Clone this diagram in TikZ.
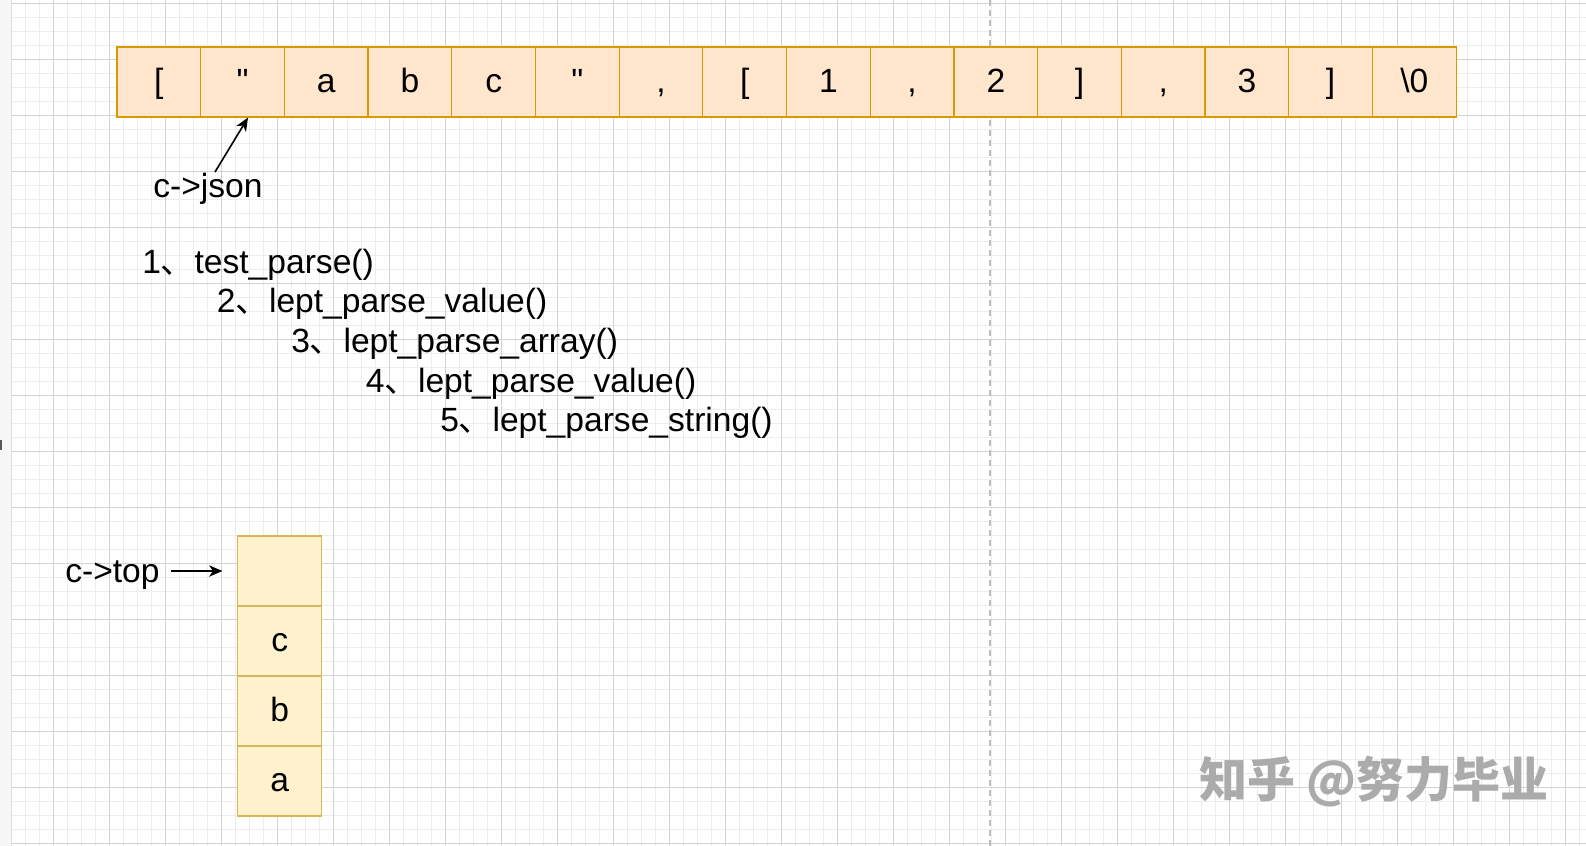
\documentclass[tikz,border=0pt]{standalone}
\usepackage{fontspec}
\setmainfont{Liberation Sans}
\newfontfamily\rawfont{Liberation Sans}[Ligatures=ResetAll]
\newfontfamily\cjk{Noto Sans CJK SC}
\usetikzlibrary{arrows.meta}
\definecolor{gridmajor}{HTML}{D2D2D2}
\definecolor{gridminor}{HTML}{EDEDED}
\definecolor{arrfill}{HTML}{FFE6CC}
\definecolor{arrdraw}{HTML}{D79B00}
\definecolor{stkfill}{HTML}{FFF2CC}
\definecolor{stkdraw}{HTML}{D6B656}
\definecolor{wmcol}{HTML}{ABABAB}
\definecolor{dashcol}{HTML}{BDBDBD}
\definecolor{bandcol}{HTML}{F7F7F7}
\begin{document}
\begin{tikzpicture}[x=0.75pt,y=-0.75pt,
  every node/.style={font=\fontsize{25.2pt}{30pt}\selectfont, inner sep=0pt},
  cell/.style={draw=arrdraw, fill=arrfill, line width=0.9pt, minimum width=62.8pt, minimum height=52.5pt, text height=21pt, text depth=5.5pt},
  stk/.style={draw=stkdraw, fill=stkfill, line width=0.9pt, minimum width=63pt, minimum height=52.5pt, text height=21pt, text depth=5pt},
  lbl/.style={anchor=base west},
  arr/.style={-{Stealth[length=10pt,width=8.5pt,inset=3pt]}, line width=1.2pt, black}]
\useasboundingbox (0,0) rectangle (1586,846);
\fill[white] (0,0) rectangle (1586,846);
% grid
\foreach \i in {0,...,112} {\draw[gridminor, line width=0.75pt] ({11+14*\i},0) -- ({11+14*\i},846);}
\foreach \j in {0,...,60} {\draw[gridminor, line width=0.75pt] (11,{3+14*\j}) -- (1586,{3+14*\j});}
\foreach \i in {0,...,27} {\draw[gridmajor, line width=0.75pt] ({53+56*\i},0) -- ({53+56*\i},846);}
\foreach \j in {0,...,15} {\draw[gridmajor, line width=0.75pt] (11,{3+56*\j}) -- (1586,{3+56*\j});}
\fill[bandcol] (0,0) rectangle (11,846);
\draw[gridmajor!80, line width=0.75pt] (11,0) -- (11,846);
\fill[black!65] (0,440) rectangle (2,450);
% page break line
\draw[dashcol, line width=1.1pt, dash pattern=on 4.5pt off 3pt] (990,0) -- (990,846);
% array
\node[cell] (c1) at (158.85,82) {[};
\node[cell] (c2) at (242.55,82) {\rawfont "};
\node[cell] (c3) at (326.25,82) {a};
\node[cell] (c4) at (409.95,82) {b};
\node[cell] (c5) at (493.65,82) {c};
\node[cell] (c6) at (577.35,82) {\rawfont "};
\node[cell] (c7) at (661.05,82) {,};
\node[cell] (c8) at (744.75,82) {[};
\node[cell] (c9) at (828.45,82) {1};
\node[cell] (c10) at (912.15,82) {,};
\node[cell] (c11) at (995.85,82) {2};
\node[cell] (c12) at (1079.55,82) {]};
\node[cell] (c13) at (1163.25,82) {,};
\node[cell] (c14) at (1246.95,82) {3};
\node[cell] (c15) at (1330.65,82) {]};
\node[cell] (c16) at (1414.35,82) {\textbackslash 0};
% c->json
\node[lbl] (json) at (153,197) {c->json};
\coordinate (jsonTail) at (215,172);
\draw[arr] (jsonTail) -- ([xshift=4.1pt]c2.south);
\fill[black] (203,173) rectangle (205.5,175.5);
% call chain
\node[lbl] (l1) at (142,273) {1{\cjk 、}test\_parse()};
\node[lbl] (l2) at (216.5,312.7) {2{\cjk 、}lept\_parse\_value()};
\node[lbl] (l3) at (291,352.4) {3{\cjk 、}lept\_parse\_array()};
\node[lbl] (l4) at (365.5,392.1) {4{\cjk 、}lept\_parse\_value()};
\node[lbl] (l5) at (440,431.8) {5{\cjk 、}lept\_parse\_string()};
% stack
\node[stk] (s0) at (279.7,571) {};
\node[stk] (s1) at (279.7,641) {c};
\node[stk] (s2) at (279.7,711) {b};
\node[stk] (s3) at (279.7,781) {a};
\node[lbl] (ctop) at (65,582) {c->top};
\draw[arr, shorten <=8pt, shorten >=11pt] (ctop.east |- s0.west) -- (s0.west);
% watermark
\node[font=\cjk\bfseries\fontsize{36pt}{40pt}\selectfont, text=wmcol] (wm) at (1374,782) {知乎 @努力毕业};
\end{tikzpicture}
\end{document}
